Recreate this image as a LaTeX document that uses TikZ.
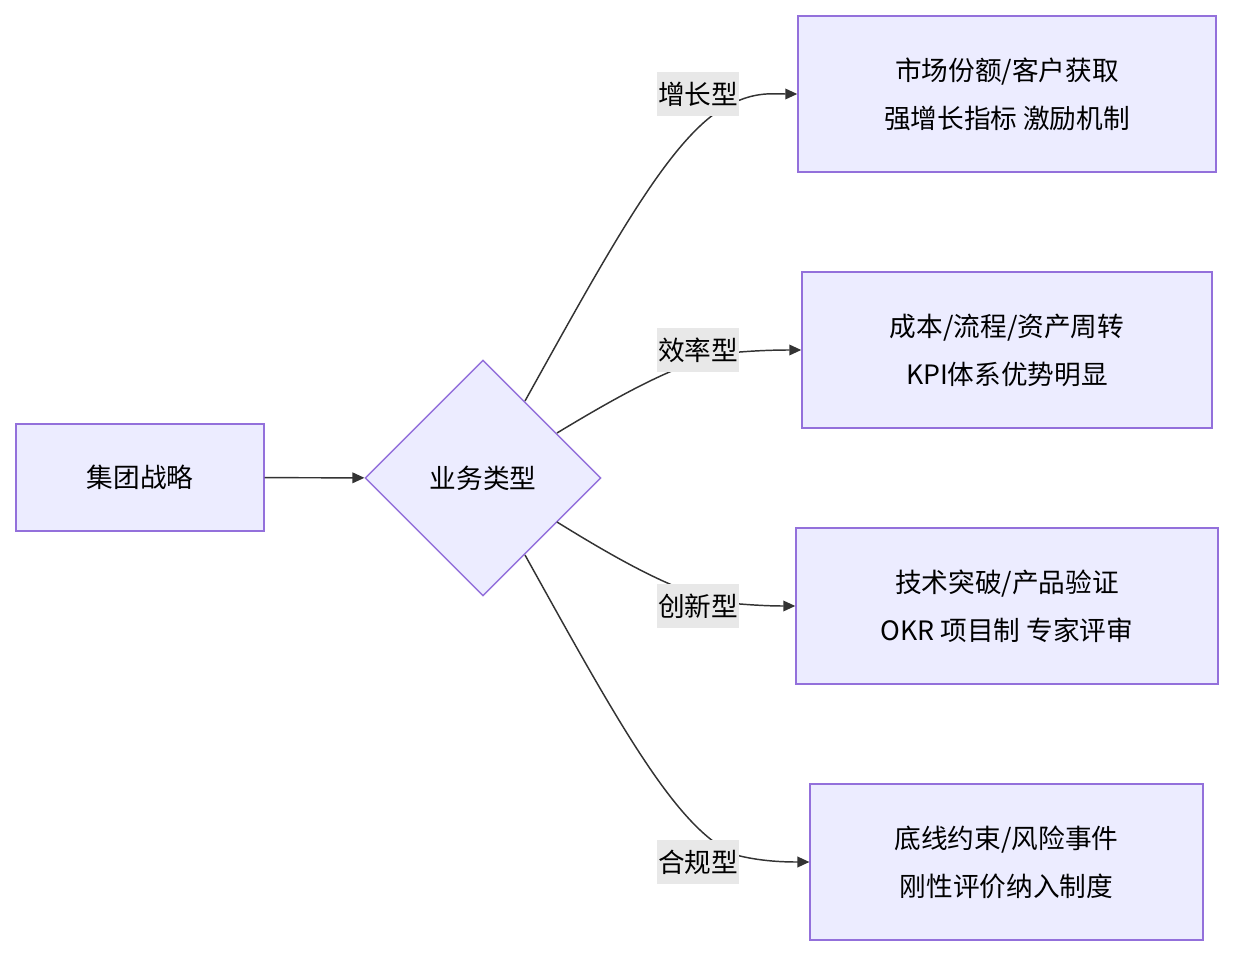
\documentclass[tikz,border=0pt]{standalone}
\usepackage{fontspec}
\setmainfont{Noto Sans CJK SC}
\usetikzlibrary{shapes.geometric,arrows.meta}
\definecolor{nfill}{HTML}{ECECFF}
\definecolor{nstroke}{HTML}{9370DB}
\definecolor{lnc}{HTML}{333333}
\definecolor{lbg}{HTML}{E8E8E8}
\begin{document}
\begin{tikzpicture}[x=0.75pt,y=-0.75pt,
  box/.style={draw=nstroke,fill=nfill,line width=1.1pt,align=center,font=\fontsize{20}{36}\selectfont,inner sep=0pt},
  lab/.style={fill=lbg,font=\fontsize{20}{24}\selectfont,inner sep=1pt,minimum height=33pt},
  edge/.style={draw=lnc,line width=1.1pt,-{Triangle[length=9pt,width=8pt]}}]
\useasboundingbox (0,0) rectangle (1233,956);
\node[box,minimum width=186pt,minimum height=80pt] (a) at (140,477.5) {集团战略};
\node[box,diamond,aspect=1,minimum width=177pt,minimum height=177pt] (d) at (483,478) {业务类型};
\node[box,minimum width=313.5pt,minimum height=117pt] (b1) at (1007,94) {市场份额/客户获取\\强增长指标 激励机制};
\node[box,minimum width=307.5pt,minimum height=117pt] (b2) at (1007,350) {成本/流程/资产周转\\KPI体系优势明显};
\node[box,minimum width=316.5pt,minimum height=117pt] (b3) at (1007,606) {技术突破/产品验证\\OKR 项目制 专家评审};
\node[box,minimum width=294.5pt,minimum height=117pt] (b4) at (1006.5,862) {底线约束/风险事件\\刚性评价纳入制度};
\coordinate (s1) at (525,401);
\coordinate (s2) at (557,433);
\coordinate (s3) at (557,522);
\coordinate (s4) at (525,555);
\draw[edge] (a) -- (d);
\draw[edge] (s1) .. controls (620,230) and (680,120) .. (740,100) .. controls (760,92) and (775,94) .. (b1.west);
\draw[edge] (s2) .. controls (620,395) and (690,355) .. (740,352) .. controls (765,350) and (785,350) .. (b2.west);
\draw[edge] (s3) .. controls (620,561) and (690,601) .. (740,604) .. controls (765,606) and (780,606) .. (b3.west);
\draw[edge] (s4) .. controls (620,726) and (680,836) .. (740,856) .. controls (765,862) and (790,862) .. (b4.west);
\node[lab] (l1) at (698,94) {增长型};
\node[lab] (l2) at (698,350) {效率型};
\node[lab] (l3) at (698,606) {创新型};
\node[lab] (l4) at (698,862) {合规型};
\end{tikzpicture}
\end{document}
